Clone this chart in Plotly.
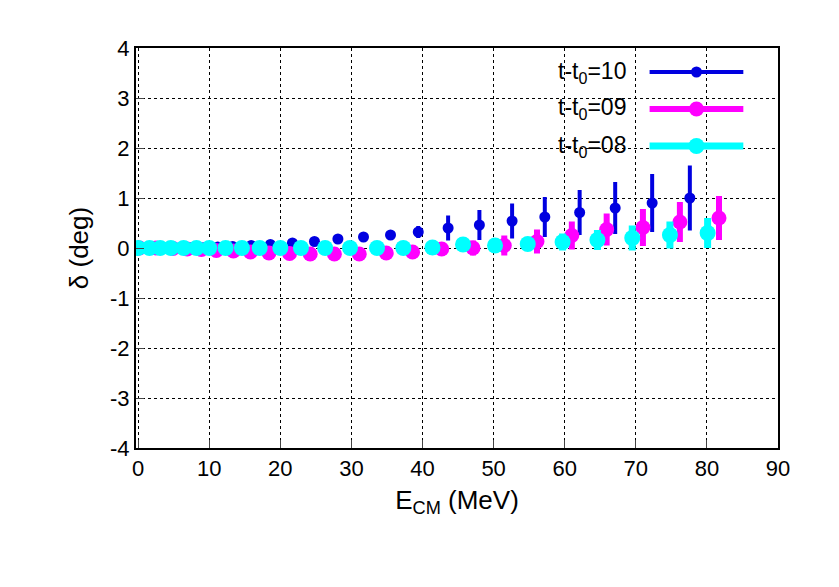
import plotly.graph_objects as go

# t-t0=10 (blue)
e10 = [0, 1.7, 3.5, 5.3, 7.3, 9.2, 11.2, 13.3, 15.9, 18.6, 21.7, 24.8, 28.1, 31.7, 35.5, 39.4, 43.6, 48.0, 52.6, 57.2, 62.1, 67.1, 72.3, 77.6]
d10 = [0, 0, 0, 0, 0.01, 0.01, 0.02, 0.03, 0.05, 0.07, 0.1, 0.13, 0.18, 0.22, 0.26, 0.32, 0.4, 0.46, 0.54, 0.62, 0.71, 0.8, 0.9, 1.0]
s10 = [0, 0, 0, 0, 0, 0, 0, 0.01, 0.01, 0.02, 0.03, 0.04, 0.05, 0.06, 0.08, 0.12, 0.25, 0.3, 0.35, 0.4, 0.45, 0.52, 0.58, 0.65]
# t-t0=09 (magenta)
e09 = [0.2, 2.5, 4.9, 6.9, 8.9, 11.0, 13.4, 15.8, 18.4, 21.3, 24.2, 27.6, 31.1, 34.9, 38.6, 42.7, 47.1, 51.5, 56.1, 61.0, 65.9, 71.0, 76.2, 81.7]
d09 = [0, 0, -0.01, -0.02, -0.03, -0.05, -0.06, -0.08, -0.1, -0.11, -0.12, -0.12, -0.12, -0.1, -0.08, -0.02, 0.0, 0.05, 0.13, 0.25, 0.37, 0.41, 0.52, 0.6]
s09 = [0, 0, 0, 0, 0, 0, 0, 0, 0, 0, 0, 0.01, 0.02, 0.03, 0.05, 0.1, 0.15, 0.2, 0.24, 0.28, 0.32, 0.37, 0.4, 0.44]
# t-t0=08 (cyan)
e08 = [0, 1.6, 3.1, 4.6, 6.4, 8.2, 10.0, 12.3, 14.6, 17.1, 20.0, 22.9, 26.3, 29.8, 33.6, 37.3, 41.4, 45.7, 50.2, 54.8, 59.7, 64.6, 69.5, 74.8, 80.1]
d08 = [0, 0, 0, 0, 0, 0, 0, 0, 0, 0, 0, 0, 0, 0, 0, 0, 0.01, 0.07, 0.05, 0.08, 0.12, 0.16, 0.2, 0.26, 0.3]
s08 = [0, 0, 0, 0, 0, 0, 0, 0, 0, 0, 0, 0, 0, 0, 0, 0.01, 0.02, 0.05, 0.08, 0.12, 0.17, 0.2, 0.25, 0.27, 0.3]

labels = ["t-t<sub>0</sub>=10", "t-t<sub>0</sub>=09", "t-t<sub>0</sub>=08"]
colors = ["#0000e0", "#ff00ff", "#00ffff"]
msize = [11, 15, 16]
ethick = [4, 6, 7]
xticks = list(range(0, 91, 10))
yticks = list(range(-4, 5))
yticktext = [str(v) for v in yticks]

fig = go.Figure()
for e, d, s, c, m, t in zip([e10, e09, e08], [d10, d09, d08], [s10, s09, s08], colors, msize, ethick):
    fig.add_trace(go.Scatter(x=e, y=d, mode="markers", showlegend=False,
                             marker=dict(color=c, size=m),
                             error_y=dict(type="data", array=s, color=c, thickness=t, width=0)))

# manual legend (text right-aligned, sample to the right)
ys = [0.94, 0.8475, 0.755]
for lab, c, m, t, yy in zip(labels, colors, msize, ethick, ys):
    fig.add_annotation(xref="paper", yref="paper", x=0.767, y=yy, text=lab, showarrow=False,
                       xanchor="right", yanchor="middle", font=dict(size=23, color="black"))
    fig.add_shape(type="line", xref="paper", yref="paper", x0=0.8, x1=0.946, y0=yy, y1=yy,
                  line=dict(color=c, width=t))
    fig.add_trace(go.Scatter(x=[0.873], y=[yy], xaxis="x2", yaxis="y2", mode="markers",
                             marker=dict(color=c, size=m), showlegend=False, hoverinfo="skip"))

axcommon = dict(showgrid=True, gridcolor="black", griddash="dot", gridwidth=1, showline=True,
                linecolor="black", linewidth=2, mirror=True, ticks="inside", ticklen=8,
                zeroline=False, automargin=False, tickfont=dict(size=22))
fig.update_layout(
    width=839, height=587, margin=dict(l=128, r=69, t=40, b=147),
    plot_bgcolor="white", paper_bgcolor="white",
    font=dict(family="Liberation Sans, Arial", size=22, color="black"),
    xaxis=dict(range=[-0.3, 90], tickvals=xticks, title=dict(text="E<sub>CM</sub> (MeV)", standoff=10), **axcommon),
    yaxis=dict(range=[-4, 4], tickvals=yticks, ticktext=yticktext, title=dict(text="δ (deg)", standoff=14), **axcommon),
    xaxis2=dict(range=[0, 1], domain=[0, 1], visible=False, overlaying="x"),
    yaxis2=dict(range=[0, 1], domain=[0, 1], visible=False, overlaying="y"),
)
fig.write_html("out.html")
